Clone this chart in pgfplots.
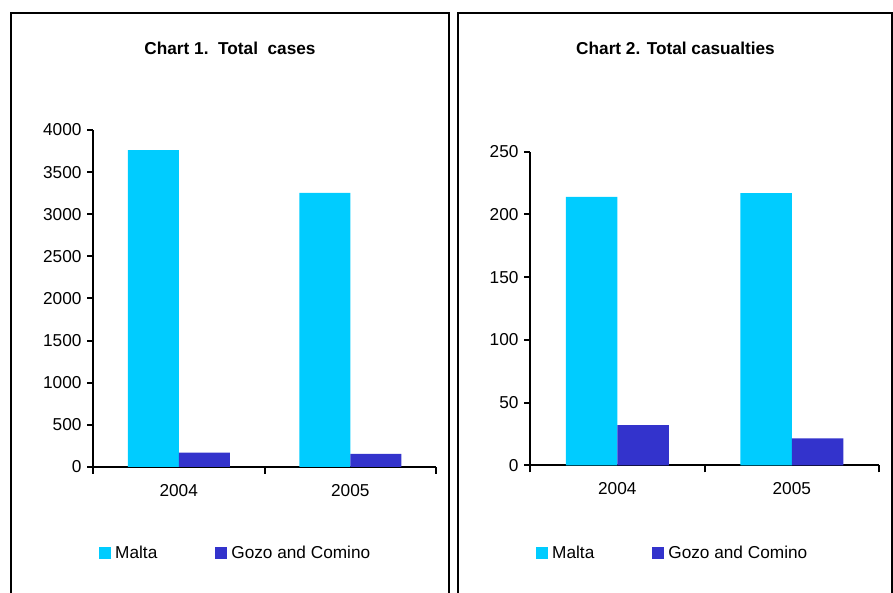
\documentclass[border=0pt]{standalone}
\usepackage{fontspec}
\setmainfont{Liberation Sans}
\usepackage{pgfplots}
\pgfplotsset{compat=1.18}
\definecolor{malta}{HTML}{00CCFF}
\definecolor{gozo}{HTML}{3333CC}
\newcommand{\chartfont}{\fontsize{17.3}{20}\selectfont}

\pgfplotsset{chart/.style={
  scale only axis, ybar=0pt, bar width=51bp,
  axis x line=bottom, axis y line=left,
  axis line style={black, line width=2bp, -},
  xmin=0.5, xmax=2.5, xtick={1,2}, xticklabels={2004,2005},
  minor xtick={0.5,1.5,2.5},
  tick align=outside,
  major tick length=6bp, minor tick length=7bp,
  tick style={black, line width=2bp},
  major x tick style={draw=none},
  ymin=0,
  ticklabel style={font=\chartfont},
  xticklabel style={yshift=-8bp},
  yticklabel style={xshift=-2bp},
  /pgf/number format/assume math mode=true,
  /pgf/number format/1000 sep={},
  legend style={draw=none, fill=none, inner sep=0pt, font=\chartfont,
    legend columns=2, nodes={inner sep=0pt},
    /tikz/every odd column/.append style={column sep=4bp},
    /tikz/every even column/.append style={column sep=58bp}},
  legend image code/.code={\fill[#1,draw=none] (0bp,-6bp) rectangle (12bp,6bp);},
  legend cell align=left,
}}

\begin{document}
\begin{tikzpicture}[x=1bp,y=1bp]
\useasboundingbox (0,0) rectangle (893,593);
\draw[line width=2bp] (11,0) -- (11,580) -- (449,580) -- (449,0);
\draw[line width=2bp] (458,0) -- (458,580) -- (892,580) -- (892,0);
\node[font=\bfseries\chartfont] at (230,545) {Chart 1.\ \ Total\ \ cases};
\node[font=\bfseries\chartfont] at (675.5,545) {Chart 2. Total casualties};

\begin{axis}[chart, at={(93bp,126bp)}, anchor=south west,
  width=343bp, height=337bp, ymax=4000, ytick={0,500,...,4000},
  legend style={at={(0.0175,-0.255)}, anchor=west}]
\addplot[fill=malta, draw=none] coordinates {(1,3760) (2,3255)};
\addplot[fill=gozo, draw=none] coordinates {(1,170) (2,155)};
\legend{Malta, Gozo and Comino}
\end{axis}

\begin{axis}[chart, at={(530bp,127.7bp)}, anchor=south west,
  width=349bp, height=313.6bp, ymax=250, ytick={0,50,...,250},
  bar width=51.5bp,
  legend style={at={(0.0172,-0.2797)}, anchor=west}]
\addplot[fill=malta, draw=none] coordinates {(1,214) (2,217)};
\addplot[fill=gozo, draw=none] coordinates {(1,32) (2,21.5)};
\legend{Malta, Gozo and Comino}
\end{axis}
\end{tikzpicture}
\end{document}
